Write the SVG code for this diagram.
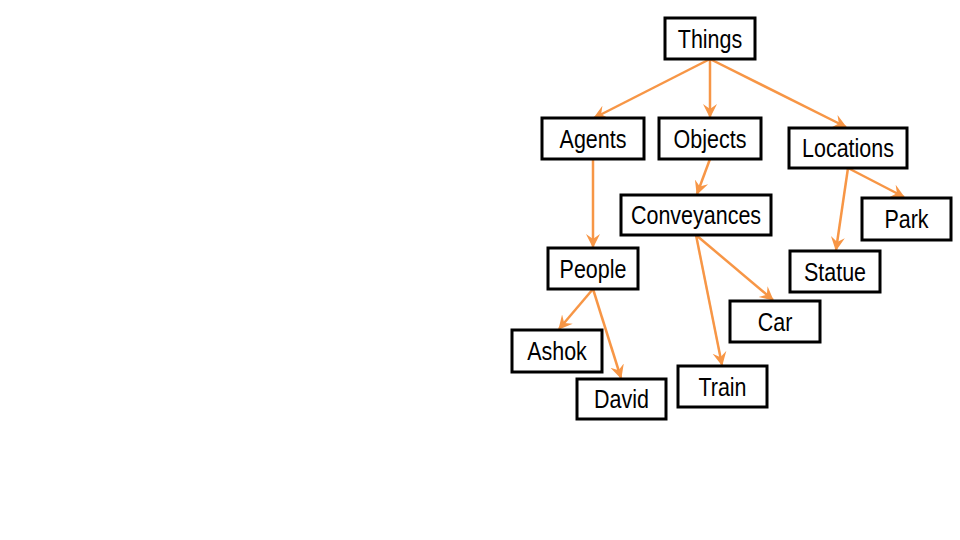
<svg xmlns="http://www.w3.org/2000/svg" width="960" height="540" viewBox="0 0 960 540">
<style>
.box{fill:#fff;stroke:#000;stroke-width:3}
.lbl{font-family:"Liberation Sans",Arial,sans-serif;font-size:25px;fill:#000;text-anchor:middle}
.edge{stroke:#F79646;stroke-width:2.5;fill:none;marker-end:url(#arr)}
</style>
<defs>
<marker id="arr" viewBox="0 0 14 16" refX="13" refY="8" markerWidth="14" markerHeight="16" markerUnits="userSpaceOnUse" orient="auto">
<path d="M0,1 L14,8 L0,15 L5,8 z" fill="#F79646"/>
</marker>
</defs>
<rect width="960" height="540" fill="#fff"/>
<g id="connectors">
<line class="edge" x1="710" y1="59" x2="594" y2="118"/>
<line class="edge" x1="710" y1="59" x2="710" y2="117"/>
<line class="edge" x1="710" y1="59" x2="846" y2="127"/>
<line class="edge" x1="593" y1="159" x2="593" y2="247"/>
<line class="edge" x1="710" y1="159" x2="697" y2="194"/>
<line class="edge" x1="848" y1="168" x2="904" y2="197"/>
<line class="edge" x1="848" y1="168" x2="836" y2="250"/>
<line class="edge" x1="696" y1="235" x2="773" y2="300"/>
<line class="edge" x1="696" y1="235" x2="722" y2="365"/>
<line class="edge" x1="593" y1="289" x2="559" y2="329"/>
<line class="edge" x1="593" y1="289" x2="621" y2="378"/>
</g>
<g id="things"><rect class="box" x="665" y="18" width="90" height="41"/><text class="lbl" transform="translate(710,47.5) scale(0.86,1)">Things</text></g>
<g id="agents"><rect class="box" x="542" y="118" width="102" height="41"/><text class="lbl" transform="translate(593,147.5) scale(0.86,1)">Agents</text></g>
<g id="objects"><rect class="box" x="659" y="118" width="102" height="41"/><text class="lbl" transform="translate(710,147.5) scale(0.86,1)">Objects</text></g>
<g id="locations"><rect class="box" x="789" y="128" width="118" height="40"/><text class="lbl" transform="translate(848,157) scale(0.86,1)">Locations</text></g>
<g id="conveyances"><rect class="box" x="621" y="195" width="150" height="40"/><text class="lbl" transform="translate(696,224) scale(0.86,1)">Conveyances</text></g>
<g id="park"><rect class="box" x="862" y="198" width="89" height="42"/><text class="lbl" transform="translate(906.5,228) scale(0.86,1)">Park</text></g>
<g id="people"><rect class="box" x="548" y="248" width="90" height="41"/><text class="lbl" transform="translate(593,277.5) scale(0.86,1)">People</text></g>
<g id="statue"><rect class="box" x="790" y="251" width="90" height="41"/><text class="lbl" transform="translate(835,280.5) scale(0.86,1)">Statue</text></g>
<g id="car"><rect class="box" x="730" y="301" width="90" height="41"/><text class="lbl" transform="translate(775,330.5) scale(0.86,1)">Car</text></g>
<g id="ashok"><rect class="box" x="512" y="330" width="90" height="42"/><text class="lbl" transform="translate(557,360) scale(0.86,1)">Ashok</text></g>
<g id="train"><rect class="box" x="678" y="366" width="89" height="41"/><text class="lbl" transform="translate(722.5,395.5) scale(0.86,1)">Train</text></g>
<g id="david"><rect class="box" x="577" y="379" width="89" height="40"/><text class="lbl" transform="translate(621.5,408) scale(0.86,1)">David</text></g>
</svg>
